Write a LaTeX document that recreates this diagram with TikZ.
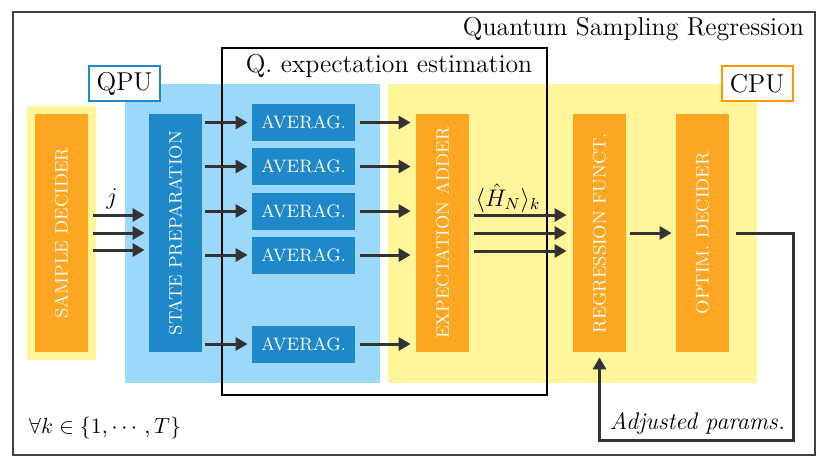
\documentclass[tikz,border=0pt]{standalone}
\usepackage{amsmath,amssymb}
\usepackage{fontspec}
\usetikzlibrary{positioning,arrows.meta,calc}
\definecolor{cpuorange}{RGB}{252,166,33}
\definecolor{cpuyellow}{RGB}{255,245,155}
\definecolor{cpuframe}{RGB}{255,152,0}
\definecolor{qpublue}{RGB}{31,136,201}
\definecolor{qpulight}{RGB}{155,216,250}
\definecolor{arrowgray}{RGB}{51,51,51}
\newcommand{\lblfont}{\fontsize{12.9}{15}\selectfont}

\begin{document}
\begin{tikzpicture}[x=0.5pt,y=-0.5pt,
    orangeblock/.style={fill=cpuorange,text=white,minimum width=26.5pt,minimum height=119pt,inner sep=0pt},
    blueblock/.style={fill=qpublue,text=white,inner sep=0pt},
    avgblock/.style={blueblock,minimum width=51.5pt,minimum height=18.5pt,font=\small},
    flow/.style={draw=arrowgray,line width=1.5pt,-{Triangle[length=6pt,width=6.5pt]}},
    tag/.style={draw,fill=white,line width=1pt,minimum width=35.5pt,minimum height=17.5pt,inner sep=0pt,font=\lblfont}]
    \useasboundingbox (0,0) rectangle (830,467);

    % Draw background regions
    \fill[qpulight] (125,84) rectangle (380,383);
    \fill[cpuyellow] (388,84) rectangle (757,383);
    \fill[cpuyellow] (27,106) rectangle (96,360);

    % Draw frames
    \draw[black!75,line width=1pt] (13,12) rectangle (815,455);
    \node[anchor=east,font=\lblfont] (title) at (811,29) {Quantum Sampling Regression};
    \draw[line width=0.75pt] (222,48) rectangle (547,395);
    \node[font=\lblfont] (qlabel) at (389,66) {Q.\ expectation estimation};
    \node[tag,draw=qpublue] (qpu) at (124.5,83.5) {QPU};
    \node[tag,draw=cpuframe] (cpu) at (757,83.5) {CPU};

    % Draw blocks
    \node[orangeblock] (sample) at (61.5,233) {\rotatebox{90}{\small SAMPLE DECIDER}};
    \node[blueblock,minimum width=26.5pt,minimum height=119pt] (state) at (175.5,233) {\rotatebox{90}{\small STATE PREPARATION}};
    \foreach \i/\y in {1/122.5,2/166.5,3/211,4/255,5/344}
        \node[avgblock] (avg\i) at (303.5,\y) {AVERAG.};
    \node[orangeblock] (adder) at (442.5,233) {\rotatebox{90}{\small EXPECTATION ADDER}};
    \node[orangeblock] (regr) at (599.5,233) {\rotatebox{90}{\small REGRESSION FUNCT.}};
    \node[orangeblock] (optim) at (702.5,233) {\rotatebox{90}{\small OPTIM. DECIDER}};

    % Draw arrows
    \foreach \s in {9pt,0pt,-8.5pt}
        \draw[flow,shorten <=2.5pt,shorten >=2pt] ([yshift=\s]sample.east) -- ([yshift=\s]state.west);
    \node[font=\lblfont] (jlab) at (112,199) {$j$};
    \foreach \i in {1,...,5} {
        \draw[flow,shorten <=1.5pt,shorten >=2pt] (state.east |- avg\i) -- (avg\i.west);
        \draw[flow,shorten <=2.5pt,shorten >=2.5pt] (avg\i.east) -- (adder.west |- avg\i);
    }
    \foreach \s in {9pt,0pt,-9pt}
        \draw[flow,shorten <=2.5pt,shorten >=3pt] ([yshift=\s]adder.east) -- ([yshift=\s]regr.west);
    \node[font=\large] (hn) at (508,198) {$\langle\hat{H}_N\rangle_k$};
    \draw[flow,shorten <=2pt,shorten >=2pt] (regr) -- (optim);

    % Draw feedback loop
    \coordinate (fb) at (793,440);
    \draw[flow,shorten <=3.5pt,shorten >=2.5pt] (optim.east) -| (fb) -| (regr.south);
    \node[font=\large\itshape,anchor=east] (params) at (792,423) {Adjusted params.};
    \node[font=\fontsize{11}{13}\selectfont] (forall) at (105,428) {$\forall k\in\{1,\cdots,T\}$};
\end{tikzpicture}
\end{document}
